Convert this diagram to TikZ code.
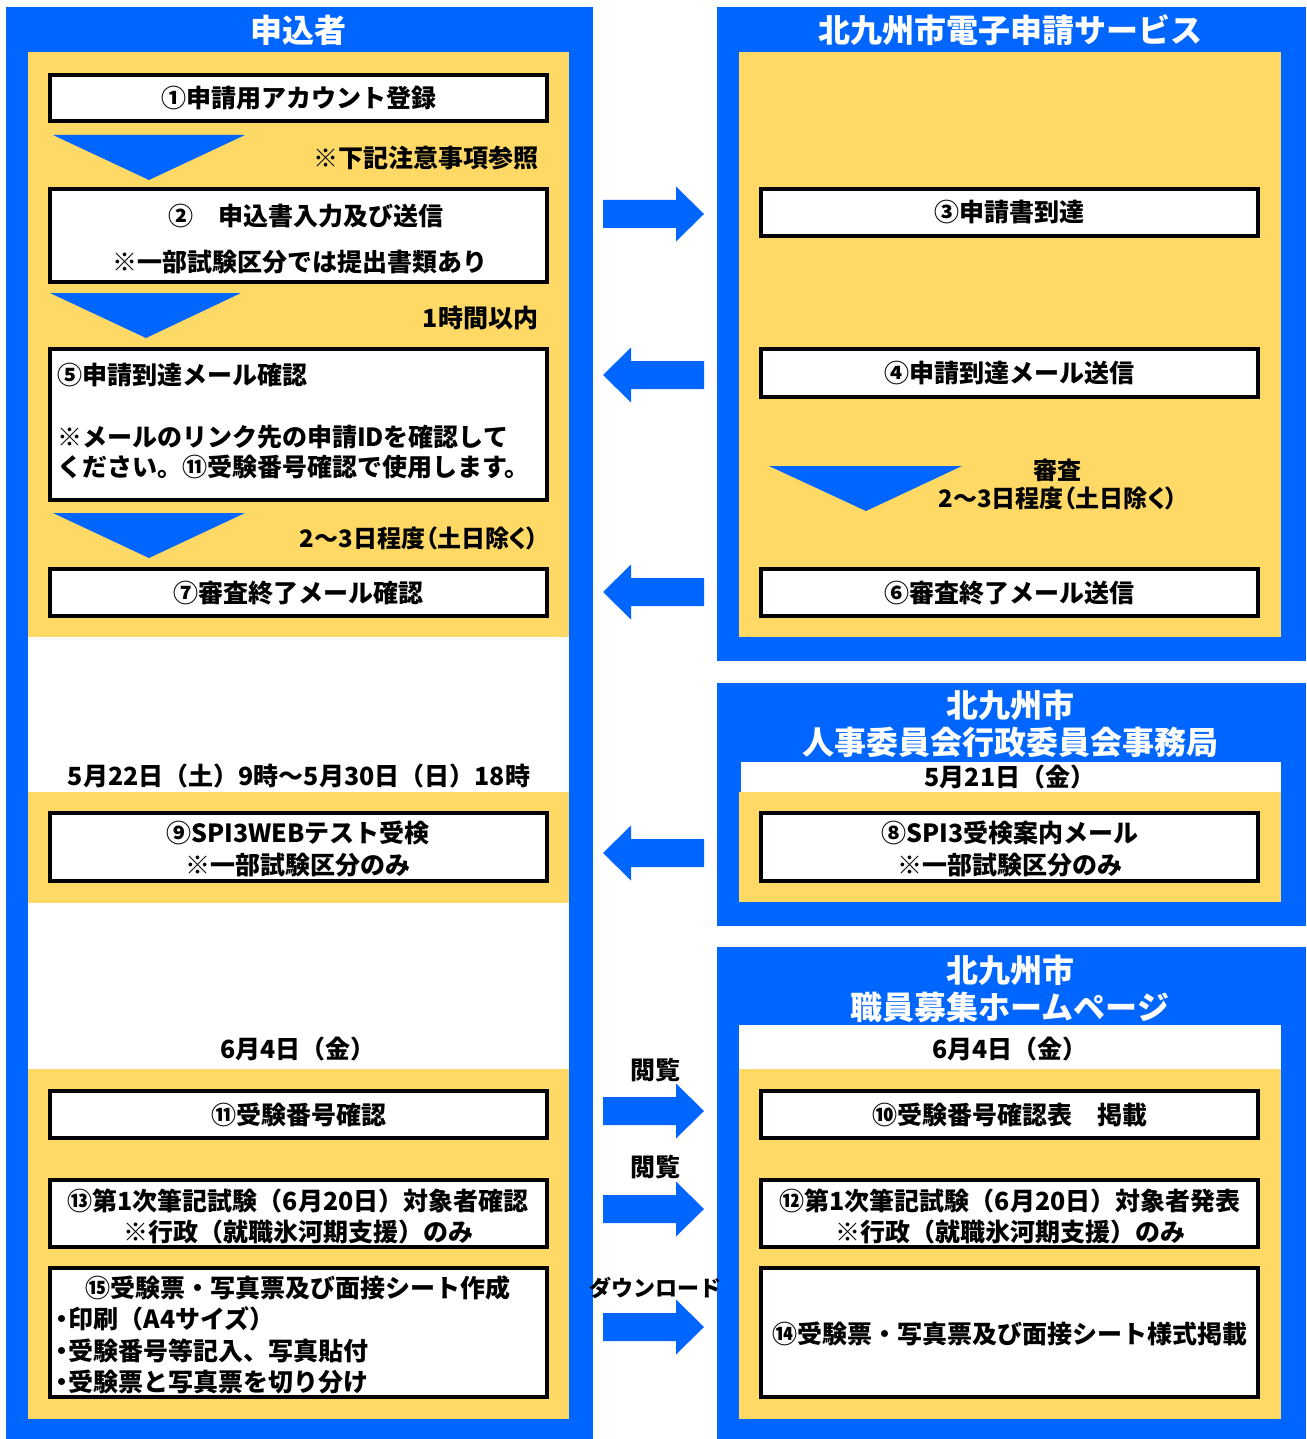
\documentclass[tikz,border=0pt]{standalone}
\usepackage{fontspec}
\setmainfont{Noto Sans CJK JP}
\newfontfamily\jpp{Noto Sans CJK JP}[RawFeature=+palt]
\definecolor{pblue}{RGB}{0,102,255}
\definecolor{pyel}{RGB}{255,217,102}
\tikzset{
  rarr/.pic={\fill[pblue] (0,-14) -- (73,-14) -- (73,-27.5) -- (101,0) -- (73,27.5) -- (73,14) -- (0,14) -- cycle;},
}
\begin{document}
\begin{tikzpicture}[x=1pt,y=-1pt,
  every node/.style={inner sep=0pt, outer sep=0pt},
  txt/.style={font=\fontsize{25}{31}\selectfont\bfseries, text=black, text height=22pt, text depth=3pt},
  ptxt/.style={font=\fontsize{24}{30}\selectfont\bfseries\jpp, text=black, text height=21pt, text depth=3pt},
  small/.style={font=\fontsize{22}{27}\selectfont\bfseries, text=black, text height=19.4pt, text depth=2.6pt},
  ttl/.style={font=\fontsize{32}{37}\selectfont\bfseries, text=white, text height=28.2pt, text depth=3.8pt},
  fbox/.style={draw=black, line width=3.5pt, fill=white, anchor=north west, minimum width=497pt, txt},
  chev/.style={fill=pblue},
]
\useasboundingbox (0,0) rectangle (1306,1439);
% ---------------- left panel ----------------
\fill[pblue] (6,7) rectangle (593,1439);
\fill[white] (28,52) rectangle (569,1419);
\fill[pyel] (28,52) rectangle (569,637);
\fill[pyel] (28,792) rectangle (569,903);
\fill[pyel] (28,1069) rectangle (569,1419);
\node[ttl] (tL) at (298,30) {申込者};

\node[fbox, minimum height=46pt] (s1) at (50,75) {①申請用アカウント登録};
\fill[chev] (53,135) -- (245,135) -- (149,180) -- cycle;
\node[txt, anchor=east] (n1) at (538,158) {※下記注意事項参照};
\node[fbox, minimum height=93pt] (s2) at (50,189) {};
\node[txt] (s2a) at (306,216) {②　申込書入力及び送信};
\node[txt] (s2b) at (300,262) {※一部試験区分では提出書類あり};
\fill[chev] (50,293) -- (241,293) -- (146,338) -- cycle;
\node[txt, anchor=east] (n2) at (538,318) {1時間以内};
\node[fbox, minimum height=151pt] (s5) at (50,349) {};
\node[txt, anchor=west] (s5a) at (57,375) {⑤申請到達メール確認};
\node[txt, anchor=west] (s5b) at (57,437) {※メールのリンク先の申請IDを確認して};
\node[txt, anchor=west] (s5c) at (57,467) {ください。⑪受験番号確認で使用します。};
\fill[chev] (53,513) -- (245,513) -- (149,558) -- cycle;
\node[ptxt, anchor=east] (n3) at (539,538) {2～3日程度（土日除く）};
\node[fbox, minimum height=47pt] (s7) at (50,569) {⑦審査終了メール確認};

\node[txt] (d1) at (299,776) {5月22日（土）9時～5月30日（日）18時};
\node[fbox, minimum height=68pt] (s9) at (50,813) {};
\node[txt] (s9a) at (298,833) {⑨SPI3WEBテスト受検};
\node[txt] (s9b) at (298,865) {※一部試験区分のみ};

\node[txt] (d2) at (298,1049) {6月4日（金）};
\node[fbox, minimum height=47pt] (s11) at (50,1091) {⑪受験番号確認};
\node[fbox, minimum height=67pt] (s13) at (50,1180) {};
\node[txt] (s13a) at (298,1201) {⑬第1次筆記試験（6月20日）対象者確認};
\node[txt] (s13b) at (298,1232) {※行政（就職氷河期支援）のみ};
\node[fbox, minimum height=129pt] (s15) at (50,1268) {};
\node[txt] (s15a) at (298,1288) {⑮受験票・写真票及び面接シート作成};
\node[txt, anchor=west] (s15b) at (56,1319) {{\jpp ・}印刷（A4サイズ）};
\node[txt, anchor=west] (s15c) at (56,1351) {{\jpp ・}受験番号等記入、写真貼付};
\node[txt, anchor=west] (s15d) at (56,1382) {{\jpp ・}受験票と写真票を切り分け};

% ---------------- right panel 1 ----------------
\fill[pblue] (717,7) rectangle (1306,661);
\fill[pyel] (739,52) rectangle (1281,637);
\node[ttl] (tR1) at (1010,30) {北九州市電子申請サービス};
\node[fbox, minimum height=47pt] (s3) at (761,189) {③申請書到達};
\node[fbox, minimum height=48pt] (s4) at (761,349) {④申請到達メール送信};
\fill[chev] (769,466) -- (962,466) -- (866,511) -- cycle;
\node[ptxt] (n4) at (1057,470) {審査};
\node[ptxt] (n5) at (1058,498) {2～3日程度（土日除く）};
\node[fbox, minimum height=47pt] (s6) at (761,569) {⑥審査終了メール送信};

% ---------------- right panel 2 ----------------
\fill[pblue] (717,683) rectangle (1306,926);
\fill[white] (741,762) rectangle (1281,792);
\fill[pyel] (739,792) rectangle (1281,902);
\node[ttl] (tR2a) at (1010,705) {北九州市};
\node[ttl] (tR2b) at (1010,742) {人事委員会行政委員会事務局};
\node[txt] (d3) at (1010,777) {5月21日（金）};
\node[fbox, minimum height=68pt] (s8) at (761,813) {};
\node[txt] (s8a) at (1010,833) {⑧SPI3受検案内メール};
\node[txt] (s8b) at (1010,865) {※一部試験区分のみ};

% ---------------- right panel 3 ----------------
\fill[pblue] (717,947) rectangle (1306,1439);
\fill[white] (739,1025) rectangle (1281,1069);
\fill[pyel] (739,1069) rectangle (1281,1419);
\node[ttl] (tR3a) at (1010,970) {北九州市};
\node[ttl] (tR3b) at (1010,1007) {職員募集ホームページ};
\node[txt] (d4) at (1010,1049) {6月4日（金）};
\node[fbox, minimum height=47pt] (s10) at (761,1091) {⑩受験番号確認表　掲載};
\node[fbox, minimum height=67pt] (s12) at (761,1180) {};
\node[txt] (s12a) at (1010,1201) {⑫第1次筆記試験（6月20日）対象者発表};
\node[txt] (s12b) at (1010,1232) {※行政（就職氷河期支援）のみ};
\node[fbox, minimum height=129pt] (s14) at (761,1268) {};
\node[txt] (s14a) at (1010,1334) {⑭受験票・写真票及び面接シート様式掲載};

% ---------------- block arrows ----------------
\pic at (603,214) {rarr};
\pic[xscale=-1] at (704,375) {rarr};
\pic[xscale=-1] at (704,592) {rarr};
\pic[xscale=-1] at (704,853) {rarr};
\pic at (603,1111) {rarr};
\pic at (603,1209) {rarr};
\pic at (603,1327) {rarr};
\node[txt] (a1) at (655,1070) {閲覧};
\node[txt] (a2) at (655,1167) {閲覧};
\node[small] (a3) at (655,1288) {ダウンロード};
\end{tikzpicture}
\end{document}
